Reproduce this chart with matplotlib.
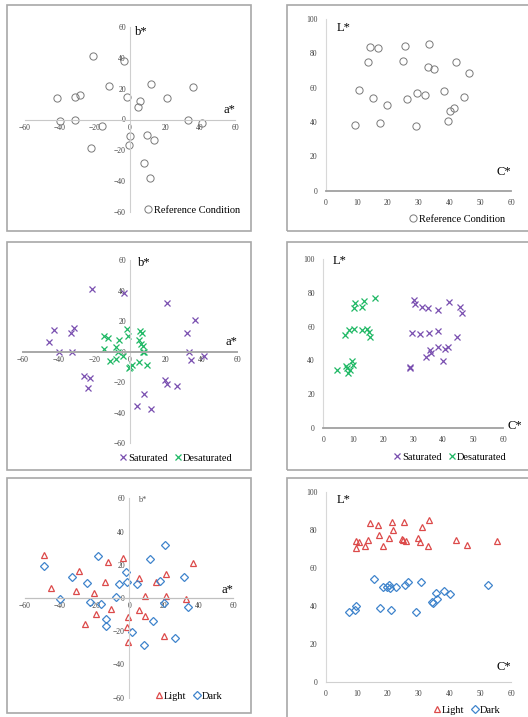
import matplotlib.pyplot as plt
from matplotlib.patches import Rectangle
from matplotlib.lines import Line2D

# ---- data ----
ref_a = [-21.3, -3.2, -11.8, 11.8, 36.2, -41.9, -31.4, -28.6, -1.7, 5.5, 4.8, 21.0,
         -39.8, -31.6, -16.2, 0.0, 9.5, 13.9, -22.5, -0.8, 33.1, 41.0, 8.0, 11.6]
ref_b = [40.9, 37.8, 21.8, 23.1, 20.8, 13.8, 14.9, 16.0, 14.9, 12.3, 8.0, 13.8,
         -1.1, -0.2, -4.1, -10.6, -10.2, -13.6, -18.6, -16.6, -0.2, -2.4, -27.9, -37.8]
ref_C = [14.5, 17.0, 25.7, 33.4, 13.7, 25.1, 33.0, 35.1, 42.1, 46.3, 10.7, 15.4,
         20.0, 26.4, 29.7, 32.3, 38.2, 44.7, 40.3, 41.4, 9.6, 17.6, 29.1, 39.7]
ref_L = [83.9, 83.3, 84.3, 85.6, 75.0, 75.5, 72.0, 71.1, 75.0, 68.7, 58.8, 54.0,
         49.7, 53.2, 57.1, 55.7, 58.1, 54.6, 46.6, 48.0, 38.4, 39.4, 37.5, 40.4]

sat_a = [-21.4, -3.2, 20.7, 36.3, -42.3, -31.3, -33.1, -45.1, -39.9, -32.6, 32.0, 33.1,
         34.1, 41.3, -25.5, -22.5, -23.6, 19.7, 20.9, 26.4, 7.8, 3.7, 11.5]
sat_b = [41.0, 38.2, 31.9, 21.0, 14.0, 15.5, 12.0, 6.1, -0.4, -0.4, 12.0, -0.4,
         -5.7, -3.1, -15.7, -17.5, -24.0, -18.8, -21.0, -22.6, -27.9, -35.4, -37.6]
des_a = [-1.9, 5.8, 6.7, -14.3, -12.1, -1.3, -6.0, 4.8, 6.1, 7.1, -14.7, -8.0,
         -6.9, -3.9, 7.4, 8.0, -11.2, -7.8, 5.2, 9.3, 0.0, 0.9, -0.4]
des_b = [15.1, 13.6, 12.5, 10.0, 8.7, 10.0, 7.6, 7.9, 5.0, 3.9, 1.7, 3.3,
         0.0, -2.6, 0.0, -0.4, -5.9, -4.8, -6.6, -8.7, -10.0, -8.7, -10.9]

sat_C = [30.2, 30.7, 32.9, 35.0, 38.2, 42.1, 45.8, 46.4, 29.6, 32.3, 35.4, 38.3,
         44.5, 35.6, 35.9, 34.4, 38.2, 40.8, 41.8, 39.9, 29.0, 29.1]
sat_L = [75.6, 73.3, 71.7, 70.9, 70.1, 74.7, 71.7, 68.3, 56.4, 55.4, 56.4, 57.6,
         54.1, 46.3, 44.2, 42.0, 47.7, 46.5, 47.7, 39.4, 36.2, 35.2]
des_C = [17.4, 13.5, 10.6, 10.1, 12.8, 8.7, 10.4, 13.0, 14.6, 15.1, 15.5, 7.2,
         4.5, 7.5, 8.9, 8.4, 9.7, 9.9, 7.8]
des_L = [77.2, 75.2, 74.1, 71.1, 71.7, 58.0, 58.8, 58.0, 58.8, 57.0, 53.9, 55.0,
         34.3, 36.6, 34.3, 32.7, 39.6, 37.2, 35.2]

light_a = [-49.1, -3.5, -11.9, 36.5, -29.0, 21.1, 5.6, -13.8, 15.4, -45.1, -30.7, -20.0,
           9.4, 21.5, 32.8, -10.7, -19.0, 5.8, 9.4, -0.8, -25.3, -1.2, 20.3, -0.4]
light_b = [25.9, 24.3, 21.9, 21.1, 16.5, 14.3, 12.2, 9.8, 9.8, 5.8, 4.4, 2.8,
           1.4, 1.0, -0.6, -6.6, -9.8, -7.2, -10.6, -11.2, -15.9, -17.3, -22.7, -26.3]
dark_a = [20.7, -17.7, 11.9, -48.8, -1.9, -33.0, -24.0, -5.6, -1.3, 4.6, 17.7, 31.7,
          -7.5, -39.9, -22.6, -16.3, 20.3, 34.0, -13.1, 13.8, -13.1, 1.5, 26.3, 8.3]
dark_b = [31.9, 25.3, 23.3, 19.5, 15.5, 12.4, 9.2, 8.2, 9.8, 8.4, 10.2, 12.4,
          0.6, -0.8, -2.6, -3.8, -3.0, -5.6, -12.9, -13.9, -16.7, -20.3, -24.3, -28.3]

light_C = [14.3, 16.8, 21.5, 25.5, 33.4, 31.2, 17.3, 21.8, 20.4, 9.7, 10.9, 9.9,
           13.7, 12.7, 18.7, 24.6, 25.1, 26.1, 29.9, 30.5, 33.1, 42.1, 45.6, 55.6]
light_L = [83.5, 82.5, 84.0, 83.9, 84.9, 81.2, 77.0, 80.0, 75.4, 74.0, 73.7, 70.5,
           74.7, 71.2, 71.4, 75.1, 74.6, 73.9, 75.4, 73.3, 71.4, 74.6, 71.8, 74.0]
dark_C = [15.5, 18.6, 20.0, 20.8, 20.5, 22.8, 25.6, 26.5, 30.7, 52.4, 7.4, 9.8,
          9.6, 17.5, 21.1, 29.1, 34.3, 34.7, 36.1, 35.6, 38.2, 40.2]
dark_L = [53.9, 50.0, 50.0, 49.5, 50.9, 50.0, 50.9, 52.6, 52.3, 50.9, 36.8, 40.0,
          37.7, 38.6, 37.7, 36.7, 42.1, 41.6, 43.5, 46.5, 47.5, 46.1]

ab_ticks = [-60, -40, -20, 0, 20, 40, 60]
C_ticks = [0, 10, 20, 30, 40, 50, 60]
L_ticks = [0, 20, 40, 60, 80, 100]

W, H = 528, 717
PURPLE = "#7a4fb0"
GREEN = "#1fb865"
RED = "#dc4a4a"
BLUE = "#3f84cc"
GREY = "#7a7a7a"
SERIF = "Liberation Serif"

plt.rcParams["font.family"] = SERIF

fig = plt.figure(figsize=(W / 100, H / 100), dpi=100)


def px_axes(x0, x1, ytop, ybot):
    return fig.add_axes([x0 / W, 1 - ybot / H, (x1 - x0) / W, (ybot - ytop) / H])


def box(x0, x1, ytop, ybot):
    fig.patches.append(Rectangle((x0 / W, 1 - ybot / H), (x1 - x0) / W, (ybot - ytop) / H,
                                 transform=fig.transFigure, fill=False,
                                 edgecolor="#a8a8a8", linewidth=1.2))


def ab_axes(ax, hcol="#c8c8c8", hlw=0.8):
    ax.set_xlim(-60, 60)
    ax.set_ylim(-60, 60)
    ax.spines["left"].set_position("zero")
    ax.spines["bottom"].set_position("zero")
    ax.spines["top"].set_visible(False)
    ax.spines["right"].set_visible(False)
    ax.spines["left"].set_color("#cfcfcf")
    ax.spines["left"].set_linewidth(0.8)
    ax.spines["bottom"].set_color(hcol)
    ax.spines["bottom"].set_linewidth(hlw)
    ax.set_xticks(ab_ticks)
    ax.set_yticks(ab_ticks)
    ax.tick_params(length=0, labelsize=5.5, labelcolor="#444444", pad=3)
    ax.patch.set_visible(False)


def cl_axes(ax, hcol="#a0a0a0", hlw=1.3):
    ax.set_xlim(0, 60)
    ax.set_ylim(0, 100)
    ax.spines["top"].set_visible(False)
    ax.spines["right"].set_visible(False)
    ax.spines["left"].set_color("#d8d8d8")
    ax.spines["left"].set_linewidth(0.8)
    ax.spines["bottom"].set_color(hcol)
    ax.spines["bottom"].set_linewidth(hlw)
    ax.set_xticks(C_ticks)
    ax.set_yticks(L_ticks)
    ax.tick_params(length=0, labelsize=5.5, labelcolor="#444444", pad=6)
    ax.patch.set_visible(False)


def legend(ax, handles, labels, xr, y):
    ax.legend(handles, labels, loc="center right", bbox_to_anchor=(xr / W, 1 - y / H),
              bbox_transform=fig.transFigure, ncol=2, frameon=False, fontsize=7.5,
              handletextpad=0.1, columnspacing=0.6, handlelength=0.8, borderpad=0)


circ = dict(marker="o", linestyle="none", markersize=5.2, markerfacecolor="none",
            markeredgecolor=GREY, markeredgewidth=0.7)
xm = dict(marker="x", linestyle="none", markersize=3.8, markeredgewidth=0.9)
tri = dict(marker="^", linestyle="none", markersize=5, markerfacecolor="none",
           markeredgecolor=RED, markeredgewidth=0.9)
dia = dict(marker="D", linestyle="none", markersize=3.8, markerfacecolor="none",
           markeredgecolor=BLUE, markeredgewidth=0.9)

# panel boxes
box(7, 251, 5, 231)
box(287, 531, 5, 231)
box(7, 251, 242, 470)
box(287, 531, 242, 470)
box(7, 251, 478, 713)
box(287, 531, 478, 720)

# ---- panel 1 : a*b* reference ----
ax1 = px_axes(25, 235, 27, 212)
ab_axes(ax1)
ax1.plot(ref_a, ref_b, **circ)
ax1.text(3, 57, "b*", fontsize=9, ha="left", va="center")
ax1.text(60, 6, "a*", fontsize=9, ha="right", va="center")
legend(ax1, [Line2D([], [], **circ)], ["Reference Condition"], 245, 210)

# ---- panel 2 : C*L* reference ----
ax2 = px_axes(325.7, 511, 19, 190.7)
cl_axes(ax2)
ax2.plot(ref_C, ref_L, **circ)
ax2.text(3.5, 95, "L*", fontsize=9, ha="left", va="center")
ax2.text(60, 11, "C*", fontsize=9, ha="right", va="center")
legend(ax2, [Line2D([], [], **circ)], ["Reference Condition"], 510, 219)

# ---- panel 3 : a*b* saturated / desaturated ----
ax3 = px_axes(22.7, 237.3, 260, 443.3)
ab_axes(ax3, hcol="#a8a8a8", hlw=1.4)
ax3.plot(sat_a, sat_b, color=PURPLE, **xm)
ax3.plot(des_a, des_b, color=GREEN, **xm)
ax3.text(4.5, 58, "b*", fontsize=9, ha="left", va="center")
ax3.text(60, 6.5, "a*", fontsize=9, ha="right", va="center")
legend(ax3, [Line2D([], [], color=PURPLE, **xm), Line2D([], [], color=GREEN, **xm)],
       ["Saturated", "Desaturated"], 238, 458)

# ---- panel 4 : C*L* saturated / desaturated ----
ax4 = px_axes(323.3, 503, 259.3, 427.7)
cl_axes(ax4)
ax4.plot(sat_C, sat_L, color=PURPLE, **xm)
ax4.plot(des_C, des_L, color=GREEN, **xm)
ax4.text(3, 99, "L*", fontsize=9, ha="left", va="center")
ax4.text(61.5, 1, "C*", fontsize=9, ha="left", va="center", clip_on=False)
legend(ax4, [Line2D([], [], color=PURPLE, **xm), Line2D([], [], color=GREEN, **xm)],
       ["Saturated", "Desaturated"], 512, 457)

# ---- panel 5 : a*b* light / dark ----
ax5 = px_axes(25, 233.3, 498.3, 697.7)
ab_axes(ax5, hcol="#c0c0c0", hlw=0.9)
ax5.plot(light_a, light_b, **tri)
ax5.plot(dark_a, dark_b, **dia)
ax5.text(5, 59, "b*", fontsize=6, ha="left", va="center", color="#555555")
ax5.text(60, 5, "a*", fontsize=9, ha="right", va="center")
legend(ax5, [Line2D([], [], **tri), Line2D([], [], **dia)], ["Light", "Dark"], 228, 696)

# ---- panel 6 : C*L* light / dark ----
ax6 = px_axes(325.7, 511, 491.7, 681.7)
cl_axes(ax6, hcol="#d0d0d0", hlw=0.8)
ax6.plot(light_C, light_L, **tri)
ax6.plot(dark_C, dark_L, **dia)
ax6.text(3.5, 95.5, "L*", fontsize=9, ha="left", va="center")
ax6.text(60, 7.5, "C*", fontsize=9, ha="right", va="center")
legend(ax6, [Line2D([], [], **tri), Line2D([], [], **dia)], ["Light", "Dark"], 506, 710)

fig.savefig("out.png", dpi=100, facecolor="white")
